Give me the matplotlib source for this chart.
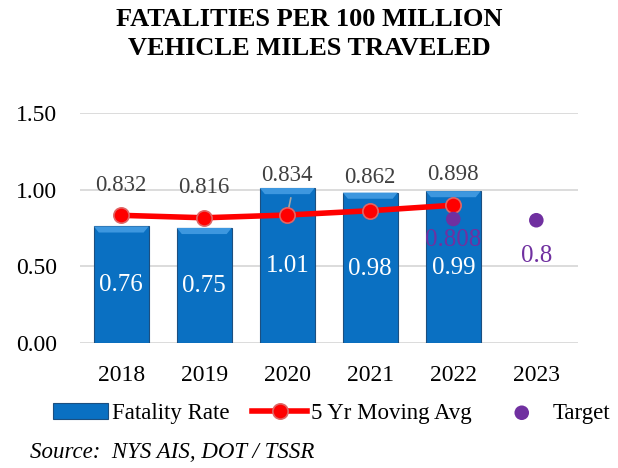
import numpy as np
import matplotlib.pyplot as plt
from matplotlib.patches import Polygon

years = ['2018', '2019', '2020', '2021', '2022', '2023']
fatality_rate = [0.76, 0.75, 1.01, 0.98, 0.99]
moving_avg = [0.832, 0.816, 0.834, 0.862, 0.898]
target_years = ['2022', '2023']
target = [0.808, 0.8]
# label offsets (points) for the moving avg and target labels
avg_label_dy = [14, 14, 21, 16.5, 14.5]
target_label_dy = [-7, -18]

serif = ['Liberation Serif', 'DejaVu Serif']
plt.rcParams['font.family'] = serif

fig = plt.figure(figsize=(6.18, 4.68), dpi=100)
ax = fig.add_axes([0.129, 0.267, 0.806, 0.492])

x = np.arange(len(years))
xb = x[:len(fatality_rate)]
w = 0.66
ax.bar(xb, fatality_rate, width=w, color='#0A70C2', edgecolor='#1C4F80',
       linewidth=0.8, zorder=2, label='Fatality Rate')
# bevel highlight on top of each bar
for xi, h in zip(xb, fatality_rate):
    d = 0.06
    dy = 0.04
    top = Polygon([(xi - w / 2, h), (xi + w / 2, h), (xi + w / 2 - d, h - dy), (xi - w / 2 + d, h - dy)],
                  closed=True, facecolor='#3D97DF', edgecolor='none', zorder=2.5)
    ax.add_patch(top)
    ax.text(xi, h / 2 - 0.005, f'{h:.2f}', color='white', fontsize=18, ha='center', va='center', zorder=3)

ax.plot(xb, moving_avg, color='#FF0000', linewidth=4, marker='o', markersize=11,
        markerfacecolor='#FF0000', markeredgecolor='#E06666', markeredgewidth=1.2,
        zorder=4, label='5 Yr Moving Avg')
for xi, v, dy in zip(xb, moving_avg, avg_label_dy):
    ax.annotate(f'{v:.3f}', (xi, v), xytext=(0, dy), textcoords='offset points',
                ha='center', va='bottom', fontsize=16.5, color='#404040', zorder=5)
# leader line for 2020 label
ax.annotate('', (xb[2], moving_avg[2]), xytext=(xb[2] + 0.05, moving_avg[2] + 0.13),
            arrowprops=dict(arrowstyle='-', color='#A6A6A6', lw=1.2), zorder=3)

tx = [years.index(t) for t in target_years]
ax.scatter(tx, target, s=110, color='#7030A0', zorder=5, label='Target', edgecolors='none')
for xi, v, dy in zip(tx, target, target_label_dy):
    ax.annotate(f'{v:g}', (xi, v), xytext=(0, dy), textcoords='offset points',
                ha='center', va='top', fontsize=18, color='#7030A0', zorder=5)

ax.set_xlim(-0.5, len(years) - 0.5)
ax.set_ylim(0, 1.5)
ax.set_yticks([0, 0.5, 1.0, 1.5])
ax.set_yticklabels(['0.00', '0.50', '1.00', '1.50'])
ax.set_xticks(x)
ax.set_xticklabels(years)
ax.tick_params(axis='both', length=0, labelsize=17, colors='black')
ax.tick_params(axis='y', pad=16)
ax.tick_params(axis='x', pad=16)
ax.grid(axis='y', color='#D9D9D9', linewidth=1.3, zorder=0)
ax.set_axisbelow(True)
for s in ax.spines.values():
    s.set_visible(False)

fig.text(0.5, 0.982, 'FATALITIES PER 100 MILLION\nVEHICLE MILES TRAVELED', ha='center', va='top',
         fontsize=19, fontweight='bold', linespacing=1.3)

h, l = ax.get_legend_handles_labels()
order = [l.index('Fatality Rate'), l.index('5 Yr Moving Avg'), l.index('Target')]
fig.legend([h[i] for i in order], [l[i] for i in order], loc='center',
           bbox_to_anchor=(0.537, 0.117), ncol=3, frameon=False,
           fontsize=16.5, handlelength=2.4, handletextpad=0.15, columnspacing=1.0)

fig.text(0.048, 0.034, 'Source:  NYS AIS, DOT / TSSR', fontsize=16.5, style='italic', ha='left', va='center')

fig.savefig('out.png', dpi=100)
